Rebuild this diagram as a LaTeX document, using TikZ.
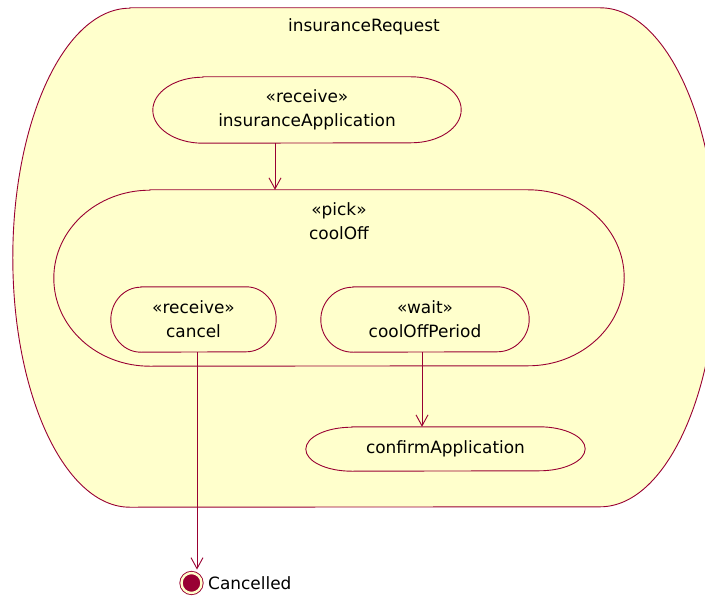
\documentclass[tikz,border=0pt]{standalone}
\usepackage{fontspec}
\setmainfont{DejaVu Sans}
\usetikzlibrary{arrows.meta}
\definecolor{crim}{RGB}{153,0,51}
\definecolor{fillc}{RGB}{255,255,204}
\tikzset{
  box/.style={draw=none, inner sep=0pt, minimum width=#1},
  txt/.style={font=\fontsize{17}{24}\selectfont, align=center, inner sep=0pt, text=black},
  edge/.style={draw=crim, line width=0.9bp, fill=fillc},
  flow/.style={draw=crim, line width=0.9bp, -{Straight Barb[length=11bp,width=12bp]}},
}
% outline with a straight top and bottom and half-elliptic ends
\newcommand\capsule[3]{%
  \path[edge] ([xshift=#2]#1.north west) -- ([xshift=-#2]#1.north east)
    arc[start angle=90,end angle=-90,x radius=#2,y radius=#3]
    -- ([xshift=#2]#1.south west)
    arc[start angle=270,end angle=90,x radius=#2,y radius=#3] -- cycle;}
\begin{document}
\begin{tikzpicture}[x=1bp,y=-1bp]
\clip (0,0) rectangle (705,597);
\fill[white] (0,0) rectangle (705,597);

% node frames
\node[box=704bp, minimum height=499bp] (outer) at (365,257.5) {};
\node[box=308bp, minimum height=66bp] (ins) at (307,110) {};
\node[box=570bp, minimum height=176bp] (cool) at (339,278) {};
\node[box=165bp, minimum height=65bp] (cancel) at (193.5,319.5) {};
\node[box=208bp, minimum height=65bp] (period) at (425,319.5) {};
\node[box=279bp, minimum height=44bp] (confirm) at (445.5,449) {};

% outlines
\capsule{outer}{117bp}{249.5bp}
\capsule{ins}{50bp}{33bp}
\capsule{cool}{96bp}{88bp}
\capsule{cancel}{30bp}{32.5bp}
\capsule{period}{32bp}{32.5bp}
\capsule{confirm}{46bp}{22bp}

% labels
\node[txt] (outertitle) at (364,27) {insuranceRequest};
\node[txt] (instext) at (ins.center) {«receive»\\insuranceApplication};
\node[txt] (cooltext) at (339,221) {«pick»\\coolOff};
\node[txt] (canceltext) at (cancel.center) {«receive»\\cancel};
\node[txt] (periodtext) at (period.center) {«wait»\\coolOffPeriod};
\node[txt] (confirmtext) at (confirm.center) {confirmApplication};

% final state
\node[circle, draw=crim, fill=crim, line width=0.9bp, double=fillc, double distance=2.4bp,
      minimum size=20bp, inner sep=0pt] (fin) at (191.5,583) {};
\node[txt, anchor=west] (fintext) at (208,583) {Cancelled};

% transitions
\coordinate (xa) at (275,0);
\coordinate (xb) at (422,0);
\coordinate (xc) at (197,0);
\draw[flow] (ins.south -| xa) -- (cool.north -| xa);
\draw[flow] (period.south -| xb) -- (confirm.north -| xb);
\draw[flow, shorten >=3bp] (cancel.south -| xc) -- (fin.north -| xc);
\end{tikzpicture}
\end{document}
